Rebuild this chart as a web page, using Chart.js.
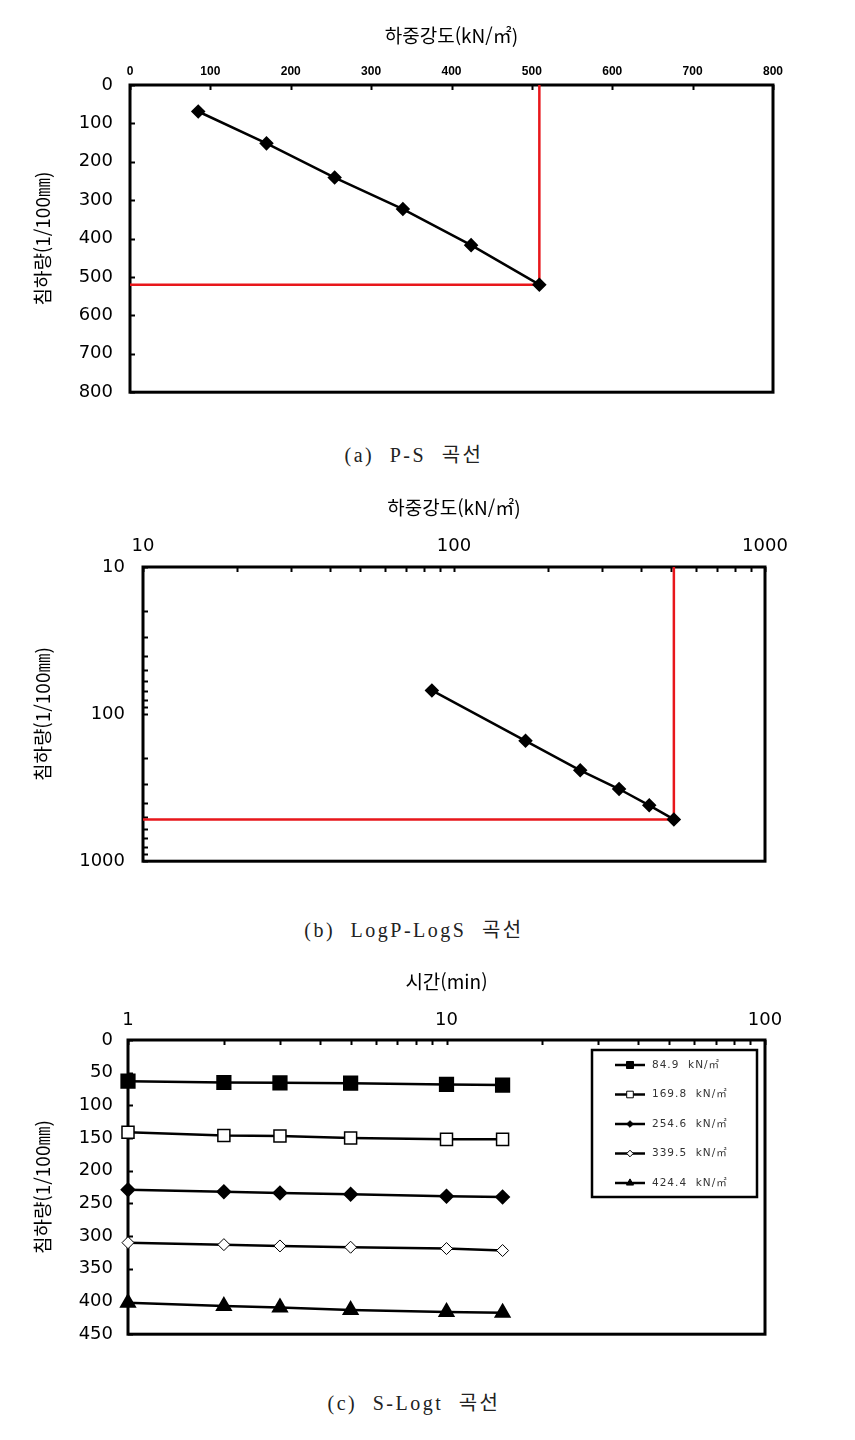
<!DOCTYPE html>
<html lang="ko">
<head>
<meta charset="utf-8">
<title>P-S / LogP-LogS / S-Logt 곡선</title>
<script src="https://cdn.jsdelivr.net/npm/chart.js"></script>
<style>
  html, body { margin: 0; padding: 0; background: #fff; }
  body { position: relative; width: 855px; height: 1440px; overflow: hidden; }
  .pane { position: absolute; left: 0; }
  .cap {
    position: absolute; left: 0; width: 828px; text-align: center;
    font-family: "Liberation Serif", "DejaVu Serif", "Noto Sans CJK KR", serif;
    font-size: 20px; letter-spacing: 2.5px; word-spacing: 8px; color: #222;
  }
</style>
</head>
<body>
<div class="pane" style="top:0"><canvas id="psChart" width="855" height="420"></canvas></div>
<div class="cap" style="top:439px">(a) P-S 곡선</div>

<div class="pane" style="top:480px"><canvas id="logChart" width="855" height="410"></canvas></div>
<div class="cap" style="top:914px">(b) LogP-LogS 곡선</div>

<div class="pane" style="top:955px"><canvas id="timeChart" width="855" height="405"></canvas></div>
<div class="cap" style="top:1387px">(c) S-Logt 곡선</div>

<script>
// 하중 단계별 하중강도(kN/㎡)와 침하량(1/100㎜)
const loadSteps = [84.9, 169.8, 254.6, 339.5, 424.4, 509.3];
const settlement = [69, 152, 241, 323, 417, 520];
const yieldLoad = 509.3;
const yieldSettle = 520;

// 시간(min) - 침하량, 하중 단계별
const timeMin = [1, 2, 3, 5, 10, 15];
const settle849 = [63, 65, 65.5, 66, 68, 69];
const settle1698 = [141, 146, 147, 150, 152, 152];
const settle2546 = [229, 232, 234, 236, 239, 240];
const settle3395 = [310, 313, 315, 317, 319, 322];
const settle4244 = [402, 407, 409, 413, 416, 417];
const stageLabels = ['84.9  kN/㎡', '169.8  kN/㎡', '254.6  kN/㎡', '339.5  kN/㎡', '424.4  kN/㎡'];

const loadTitle = '하중강도(kN/㎡)';
const settleTitle = '침하량(1/100㎜)';
const timeTitle = '시간(min)';

Chart.defaults.font.family = '"DejaVu Sans", "Noto Sans CJK KR", sans-serif';
Chart.defaults.color = '#000';
Chart.defaults.animation = false;

const krFont = { family: '"Noto Sans CJK KR", "DejaVu Sans", sans-serif', size: 19 };
const numFont = { family: '"DejaVu Sans", sans-serif', size: 18 };

// 눈금을 차트 안쪽으로 그리고 테두리 박스를 그림
const innerTicks = {
  id: 'innerTicks',
  beforeDatasetsDraw(chart) {
    const { ctx, chartArea: a } = chart;
    ctx.save();
    ctx.strokeStyle = '#000';
    ctx.lineWidth = 2;
    Object.values(chart.scales).forEach(sc => {
      sc.ticks.forEach((t, i) => {
        const p = Math.round(sc.getPixelForTick(i)) + 0.5;
        ctx.beginPath();
        if (sc.isHorizontal()) {
          ctx.moveTo(p, a.top); ctx.lineTo(p, a.top + 5);
        } else {
          ctx.moveTo(a.left, p); ctx.lineTo(a.left + 5, p);
        }
        ctx.stroke();
      });
    });
    ctx.lineWidth = 3;
    ctx.strokeRect(a.left, a.top, a.right - a.left, a.bottom - a.top);
    ctx.restore();
  }
};

// 차트 (c) 안쪽 범례 박스
const boxLegend = {
  id: 'boxLegend',
  afterDraw(chart) {
    const { ctx, chartArea: a } = chart;
    const sets = chart.data.datasets.filter(d => d.label);
    const w = 165, h = 147;
    const x0 = a.right - 8 - w, y0 = a.top + 10;
    ctx.save();
    ctx.fillStyle = '#fff';
    ctx.fillRect(x0, y0, w, h);
    ctx.strokeStyle = '#000';
    ctx.lineWidth = 2.5;
    ctx.strokeRect(x0, y0, w, h);
    sets.forEach((ds, i) => {
      const y = y0 + 15 + i * 29.5;
      ctx.strokeStyle = '#000';
      ctx.lineWidth = 2.5;
      ctx.beginPath();
      ctx.moveTo(x0 + 23, y); ctx.lineTo(x0 + 53, y);
      ctx.stroke();
      ctx.fillStyle = ds.pointBackgroundColor;
      ctx.lineWidth = 1;
      Chart.helpers.drawPoint(ctx, {
        pointStyle: ds.pointStyle, radius: ds.pointRadius * 0.55, rotation: 0, borderWidth: 1
      }, x0 + 38, y);
      ctx.fillStyle = '#333';
      ctx.font = '10.5px "DejaVu Sans", "Noto Sans CJK KR", sans-serif';
      ctx.letterSpacing = '1px';
      ctx.textBaseline = 'middle';
      ctx.fillText(ds.label, x0 + 60, y);
    });
    ctx.restore();
  }
};

function isDecade(v) {
  const e = Math.log10(v);
  return Math.abs(e - Math.round(e)) < 1e-9;
}

function wholeSignificand(scale) {
  scale.ticks = scale.ticks.filter(t => {
    const s = t.value / Math.pow(10, Math.floor(Math.log10(t.value) + 1e-9));
    return Math.abs(s - Math.round(s)) < 1e-6;
  });
}

function pts(xs, ys) {
  return xs.map((x, i) => ({ x: x, y: ys[i] }));
}

function blackLine(data, style, radius) {
  return {
    data: data,
    borderColor: '#000',
    borderWidth: 2.5,
    pointStyle: style,
    pointRadius: radius,
    pointBackgroundColor: '#000',
    pointBorderColor: '#000',
    tension: 0,
    clip: false
  };
}

function redLine(data) {
  return {
    data: data,
    borderColor: '#e8171b',
    borderWidth: 2.5,
    pointRadius: 0,
    tension: 0,
    clip: false
  };
}

const noGrid = { display: false, drawTicks: false };
const noBorder = { display: false };

// (a) P-S 곡선
new Chart(document.getElementById('psChart'), {
  type: 'line',
  data: {
    datasets: [
      blackLine(pts(loadSteps, settlement), 'rectRot', 5.5),
      redLine([{ x: 0, y: yieldSettle }, { x: yieldLoad, y: yieldSettle }, { x: yieldLoad, y: 0 }])
    ]
  },
  options: {
    responsive: false,
    devicePixelRatio: 1,
    layout: { padding: { left: 0, top: 0, right: 82, bottom: 25 } },
    plugins: { legend: { display: false }, tooltip: { enabled: false } },
    scales: {
      x: {
        type: 'linear', position: 'top', min: 0, max: 800,
        grid: noGrid, border: noBorder,
        ticks: {
          stepSize: 100, padding: 6, maxRotation: 0,
          font: { family: '"Liberation Sans Narrow", "Liberation Sans", sans-serif', size: 12, weight: 'bold' }
        },
        title: { display: true, text: loadTitle, font: krFont, padding: { top: 24, bottom: 0 } },
        afterFit: sc => { sc.height = 85; }
      },
      y: {
        type: 'linear', reverse: true, min: 0, max: 800,
        grid: noGrid, border: noBorder,
        ticks: { stepSize: 100, padding: 17, font: numFont },
        title: { display: true, text: settleTitle, font: krFont, padding: { top: 31, bottom: 0 } },
        afterFit: sc => { sc.width = 130; }
      }
    }
  },
  plugins: [innerTicks]
});

// (b) LogP-LogS 곡선
new Chart(document.getElementById('logChart'), {
  type: 'line',
  data: {
    datasets: [
      blackLine(pts(loadSteps, settlement), 'rectRot', 5.5),
      redLine([{ x: 10, y: yieldSettle }, { x: yieldLoad, y: yieldSettle }, { x: yieldLoad, y: 10 }])
    ]
  },
  options: {
    responsive: false,
    devicePixelRatio: 1,
    layout: { padding: { left: 0, top: 0, right: 90, bottom: 22 } },
    plugins: { legend: { display: false }, tooltip: { enabled: false } },
    scales: {
      x: {
        type: 'logarithmic', position: 'top', min: 10, max: 1000,
        grid: noGrid, border: noBorder,
        afterBuildTicks: wholeSignificand,
        ticks: {
          autoSkip: false, maxRotation: 0, padding: 10, font: numFont,
          callback: v => (isDecade(v) ? String(v) : '')
        },
        title: { display: true, text: loadTitle, font: krFont, padding: { top: 16, bottom: 0 } },
        afterFit: sc => { sc.height = 87; }
      },
      y: {
        type: 'logarithmic', reverse: true, min: 10, max: 1000,
        grid: noGrid, border: noBorder,
        afterBuildTicks: wholeSignificand,
        ticks: {
          autoSkip: false, padding: 18, font: numFont,
          callback: v => (isDecade(v) ? String(v) : '')
        },
        title: { display: true, text: settleTitle, font: krFont, padding: { top: 31, bottom: 0 } },
        afterFit: sc => { sc.width = 143; }
      }
    }
  },
  plugins: [innerTicks]
});

// (c) S-Logt 곡선
const timeSets = [
  Object.assign(blackLine(pts(timeMin, settle849), 'rect', 9), { label: stageLabels[0] }),
  Object.assign(blackLine(pts(timeMin, settle1698), 'rect', 8.5),
    { label: stageLabels[1], pointBackgroundColor: '#fff', pointBorderWidth: 1.5 }),
  Object.assign(blackLine(pts(timeMin, settle2546), 'rectRot', 6), { label: stageLabels[2] }),
  Object.assign(blackLine(pts(timeMin, settle3395), 'rectRot', 6),
    { label: stageLabels[3], pointBackgroundColor: '#fff', pointBorderWidth: 1 }),
  Object.assign(blackLine(pts(timeMin, settle4244), 'triangle', 7.5), { label: stageLabels[4] })
];

new Chart(document.getElementById('timeChart'), {
  type: 'line',
  data: { datasets: timeSets },
  options: {
    responsive: false,
    devicePixelRatio: 1,
    layout: { padding: { left: 0, top: 0, right: 90, bottom: 18 } },
    plugins: { legend: { display: false }, tooltip: { enabled: false } },
    scales: {
      x: {
        type: 'logarithmic', position: 'top', min: 1, max: 100,
        grid: noGrid, border: noBorder,
        afterBuildTicks: wholeSignificand,
        ticks: {
          autoSkip: false, maxRotation: 0, padding: 9, font: numFont,
          callback: v => (isDecade(v) ? String(v) : '')
        },
        title: { display: true, text: timeTitle, font: krFont, padding: { top: 15, bottom: 0 } },
        afterFit: sc => { sc.height = 85; }
      },
      y: {
        type: 'linear', reverse: true, min: 0, max: 450,
        grid: noGrid, border: noBorder,
        ticks: { stepSize: 50, padding: 15, font: numFont },
        title: { display: true, text: settleTitle, font: krFont, padding: { top: 31, bottom: 0 } },
        afterFit: sc => { sc.width = 128; }
      }
    }
  },
  plugins: [innerTicks, boxLegend]
});
</script>
</body>
</html>
